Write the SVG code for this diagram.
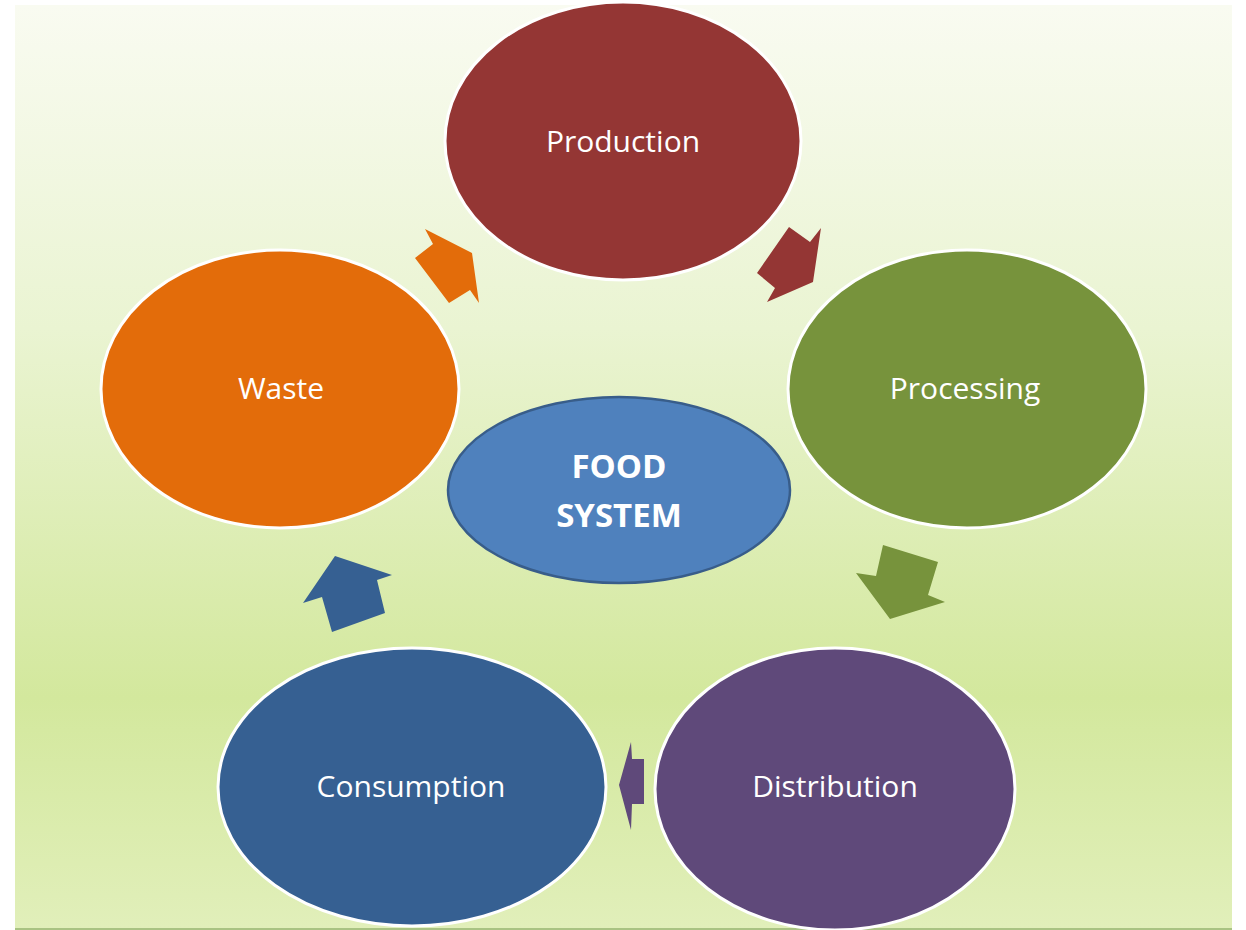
<svg xmlns="http://www.w3.org/2000/svg" width="1246" height="930" viewBox="0 0 1246 930">
<defs>
<linearGradient id="bg" x1="0" y1="0" x2="0" y2="1">
<stop offset="0" stop-color="#f9fbf1"/>
<stop offset="0.35" stop-color="#eaf4d2"/>
<stop offset="0.75" stop-color="#d3e89d"/>
<stop offset="1" stop-color="#e1efba"/>
</linearGradient>
<style>
.cyc{stroke:#ffffff;stroke-width:3}
.lbl{font-family:"Open Sans","Noto Sans",sans-serif;font-size:30px;fill:#ffffff;text-anchor:middle}
.ctr{font-family:"Open Sans","Noto Sans",sans-serif;font-size:33px;font-weight:bold;fill:#ffffff;text-anchor:middle}
</style>
</defs>
<rect x="0" y="0" width="1246" height="930" fill="#ffffff"/>
<rect x="15" y="5" width="1217" height="923" fill="url(#bg)"/>
<line x1="15" y1="929" x2="1232" y2="929" stroke="#a9c383" stroke-width="2"/>
<g id="connectors">
<polygon points="425,229 433,244 415,258 449,303 470,290 479,303 472,253" fill="#e36c0a"/>
<polygon points="789,227 810,242 821,228 813,282 767,302 775,288 757,273" fill="#943634"/>
<polygon points="883,545 938,562 928,595 945,602 890,619 856,573 876,576" fill="#77933c"/>
<polygon points="335,556 392,575 377,580 385,613 332,632 322,597 303,603" fill="#366092"/>
<polygon points="631,742 632,759 644,759 644,804 632,804 631,830 619,785" fill="#5f497a"/>
</g>
<g id="production">
<ellipse class="cyc" cx="623" cy="141" rx="178" ry="139" fill="#943634"/>
<text class="lbl" x="623" y="152">Production</text>
</g>
<g id="processing">
<ellipse class="cyc" cx="967" cy="389" rx="179" ry="139" fill="#77933c"/>
<text class="lbl" x="965" y="399">Processing</text>
</g>
<g id="distribution">
<ellipse class="cyc" cx="835" cy="789" rx="180" ry="141" fill="#5f497a"/>
<text class="lbl" x="835" y="797">Distribution</text>
</g>
<g id="consumption">
<ellipse class="cyc" cx="412" cy="787" rx="194" ry="139" fill="#366092"/>
<text class="lbl" x="411" y="797">Consumption</text>
</g>
<g id="waste">
<ellipse class="cyc" cx="280" cy="389" rx="179" ry="139" fill="#e36c0a"/>
<text class="lbl" x="281" y="399">Waste</text>
</g>
<g id="food-system">
<ellipse cx="619" cy="490" rx="171" ry="93" fill="#4f81bd" stroke="#385d8a" stroke-width="2.5"/>
<text class="ctr" x="619" y="478">FOOD</text>
<text class="ctr" x="619" y="527">SYSTEM</text>
</g>
</svg>
